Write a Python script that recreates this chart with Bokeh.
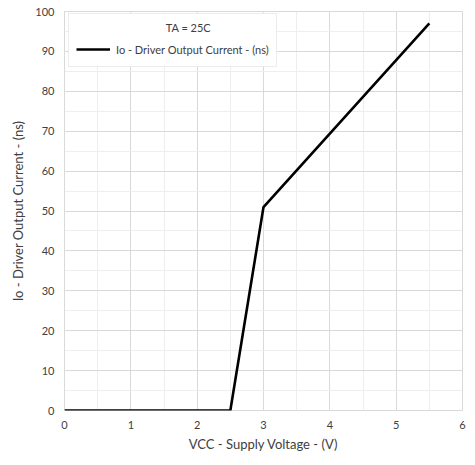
from bokeh.plotting import figure
from bokeh.models import Legend, LegendItem, Range1d, FixedTicker
from bokeh.embed import file_html
from bokeh.resources import INLINE

vcc = [0, 2.5, 3, 5.5]
io = [0, 0, 51, 97]
x_ticks = [0, 1, 2, 3, 4, 5, 6]
y_ticks = [0, 10, 20, 30, 40, 50, 60, 70, 80, 90, 100]
series_name = "Io - Driver Output Current - (ns)"
legend_title = "TA = 25C"

FONT = "Lato"

p = figure(width=475, height=465, output_backend="svg", toolbar_location=None,
           x_range=Range1d(0, 6), y_range=Range1d(0, 100),
           min_border_left=64, min_border_right=13, min_border_top=11, min_border_bottom=55)
p.background_fill_color = "white"
p.border_fill_color = "white"
p.outline_line_color = "#d9d9d9"

r = p.line(vcc, io, line_color="black", line_width=2.6)

p.xaxis.ticker = FixedTicker(ticks=x_ticks, minor_ticks=[i * 0.5 for i in range(13)])
p.yaxis.ticker = FixedTicker(ticks=y_ticks, minor_ticks=[i * 5 for i in range(21)])
for ax in (p.xaxis[0], p.yaxis[0]):
    ax.axis_line_color = None
    ax.major_tick_line_color = None
    ax.minor_tick_line_color = None
    ax.major_tick_out = 0
    ax.minor_tick_out = 0
    ax.major_label_text_font = FONT
    ax.major_label_text_font_size = "11px"
    ax.major_label_text_color = "#404040"
    ax.axis_label_text_font = FONT
    ax.axis_label_text_font_size = "13px"
    ax.axis_label_text_font_style = "normal"
    ax.axis_label_text_color = "#404040"
p.xaxis.axis_label = "VCC - Supply Voltage - (V)"
p.yaxis.axis_label = "Io - Driver Output Current - (ns)"
p.xaxis.major_label_standoff = 10
p.yaxis.major_label_standoff = 10
p.xaxis.axis_label_standoff = 4
p.yaxis.axis_label_standoff = 6

p.grid.grid_line_color = "#d9d9d9"
p.grid.minor_grid_line_color = "#eeeeee"

# non-breaking spaces push the legend title towards the centre of the box
centred_title = "\u00a0" * 32 + legend_title

legend = Legend(items=[LegendItem(label=series_name, renderers=[r])],
                location=(4, 343), title=centred_title,
                title_text_font=FONT, title_text_font_style="normal",
                title_text_font_size="11px", title_standoff=5, title_text_color="#404040",
                label_text_font=FONT, label_text_font_size="11px", label_text_color="#404040",
                glyph_width=34, label_standoff=6, padding=7, spacing=0,
                border_line_color="#d9d9d9", background_fill_alpha=1)
p.add_layout(legend)

open("out.html", "w").write(file_html(p, INLINE))
